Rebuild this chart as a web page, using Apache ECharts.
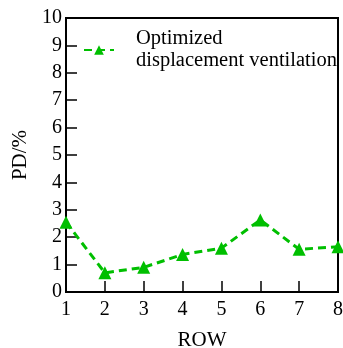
<!DOCTYPE html>
<html>
<head>
<meta charset="utf-8">
<script src="https://cdn.jsdelivr.net/npm/echarts@6/dist/echarts.min.js"></script>
<style>
  html, body { margin: 0; padding: 0; background: #fff; }
  #chart { width: 343px; height: 348px; }
</style>
</head>
<body>
<div id="chart"></div>
<script>
// values
const rows = [1, 2, 3, 4, 5, 6, 7, 8];
const pdValues = [2.55, 0.7, 0.9, 1.37, 1.6, 2.63, 1.56, 1.65];
const seriesName = "Optimized\ndisplacement ventilation";

const font = "'Liberation Serif', 'Times New Roman', serif";
const green = "#00bf00";

const myChart = echarts.init(document.getElementById("chart"));
myChart.setOption({
  animation: false,
  textStyle: { fontFamily: font },
  grid: {
    left: 66,
    top: 18,
    right: 5,
    bottom: 56,
    outerBoundsMode: "none",
    show: true,
    borderColor: "#000",
    borderWidth: 2,
  },
  legend: {
    left: 78,
    top: 23,
    itemWidth: 30,
    itemHeight: 12,
    itemGap: 0,
    textStyle: { fontFamily: font, fontSize: 20.5, color: "#000", lineHeight: 22, padding: [0, 0, 0, 17] },
    data: [seriesName],
  },
  xAxis: {
    type: "value",
    min: 1,
    max: 8,
    interval: 1,
    name: "ROW",
    nameLocation: "middle",
    nameGap: 38,
    nameTextStyle: { fontFamily: font, fontSize: 21, color: "#000" },
    axisLine: { lineStyle: { color: "#000", width: 2 } },
    axisTick: { inside: true, length: 11, lineStyle: { color: "#000", width: 1.5 } },
    axisLabel: { fontFamily: font, fontSize: 20, color: "#000", margin: 8 },
    splitLine: { show: false },
  },
  yAxis: {
    type: "value",
    min: 0,
    max: 10,
    interval: 1,
    name: "PD/%",
    nameLocation: "middle",
    nameGap: 34,
    nameTextStyle: { fontFamily: font, fontSize: 21, color: "#000" },
    axisLine: { show: true, lineStyle: { color: "#000", width: 2 } },
    axisTick: { show: true, inside: true, length: 11, lineStyle: { color: "#000", width: 1.5 } },
    axisLabel: { fontFamily: font, fontSize: 20, color: "#000", margin: 4 },
    splitLine: { show: false },
  },
  series: [
    {
      name: seriesName,
      type: "line",
      data: rows.map((r, i) => [r, pdValues[i]]),
      symbol: "triangle",
      symbolSize: 13,
      itemStyle: { color: green },
      lineStyle: { color: green, width: 3, type: [8, 5] },
      clip: false,
    },
  ],
});
</script>
</body>
</html>
